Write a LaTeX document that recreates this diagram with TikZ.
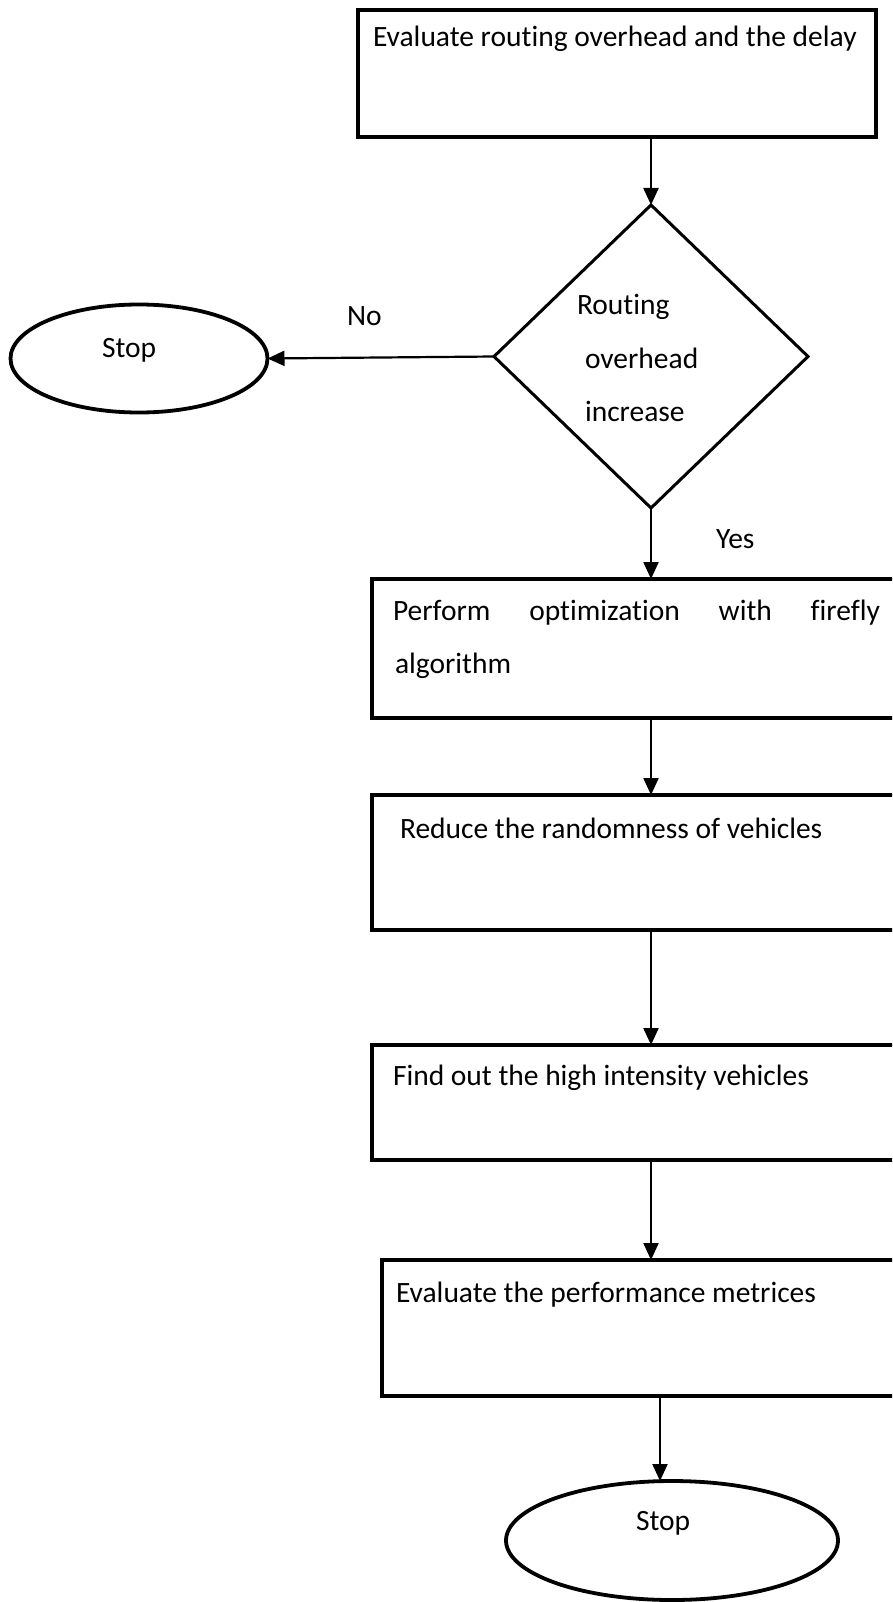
\documentclass[tikz,border=0pt]{standalone}
\usepackage{fontspec}
\setmainfont{Carlito}[Ligatures={NoCommon}]
\usetikzlibrary{arrows.meta,shapes.geometric}
\begin{document}
\begin{tikzpicture}[x=1pt,y=-1pt,
  every node/.style={inner sep=0pt, outer sep=0pt},
  procbox/.style={draw, line width=4.4pt, rectangle, anchor=north west},
  decision/.style={draw, line width=3pt, diamond},
  terminal/.style={line width=3.8pt},
  txt/.style={anchor=base west, font=\fontsize{29.5}{35}\selectfont},
  flow/.style={line width=2.2pt, -{Triangle[length=17pt,width=15pt]}}
]
\useasboundingbox (0,0) rectangle (892,1602);
\clip (0,0) rectangle (892,1602);
\fill[white] (0,0) rectangle (892,1602);

% process boxes (the right sides run past the page edge)
\node[procbox, minimum width=518pt, minimum height=127pt] (b1) at (358,10) {};
\node[procbox, minimum width=530pt, minimum height=139pt] (b2) at (372,579) {};
\node[procbox, minimum width=530pt, minimum height=135pt] (b3) at (372,795) {};
\node[procbox, minimum width=530pt, minimum height=115pt] (b4) at (372,1045) {};
\node[procbox, minimum width=520pt, minimum height=136pt] (b5) at (382,1260) {};

% decision
\node[decision, minimum width=314pt, minimum height=303pt] (d) at (651,356.5) {};

% terminals
\coordinate (e1) at (139,358.5);
\coordinate (e1east) at (267.5,358.5);
\draw[terminal] (e1) ellipse [x radius=128.5, y radius=54];
\coordinate (e2) at (672,1540.5);
\coordinate (e2in) at (660,1481);
\draw[terminal] (e2) ellipse [x radius=166, y radius=59.5];

% texts
\node[txt] (t1) at (373,47) {Evaluate routing overhead and the delay};
\node[txt] (td1) at (577,315) {Routing};
\node[txt] (td2) at (585,368) {overhead};
\node[txt] (td3) at (585,421) {increase};
\node[txt] (tno) at (347,326) {No};
\node[txt] (tyes) at (716,548) {Yes};
\node[txt] (ts1) at (102,357) {Stop};
\node[txt] (t2a) at (393,620) {\makebox[487pt][s]{Perform optimization with firefly}};
\node[txt] (t2b) at (395,673) {algorithm};
\node[txt] (t3) at (400,838) {Reduce the randomness of vehicles};
\node[txt] (t4) at (393,1085) {Find out the high intensity vehicles};
\node[txt] (t5) at (396,1302) {Evaluate the performance metrices};
\node[txt] (ts2) at (636,1530) {Stop};

% connectors
\draw[flow] (b1.south -| d.north) -- (d.north);
\draw[flow] (d.west) -- (e1east);
\draw[flow] (d.south) -- (d.south |- b2.north);
\draw[flow] (b2.south -| d.south) -- (b3.north -| d.south);
\draw[flow] (b3.south -| d.south) -- (b4.north -| d.south);
\draw[flow] (b4.south -| d.south) -- (b5.north -| d.south);
\draw[flow] (b5.south -| e2in) -- (e2in);
\end{tikzpicture}
\end{document}
